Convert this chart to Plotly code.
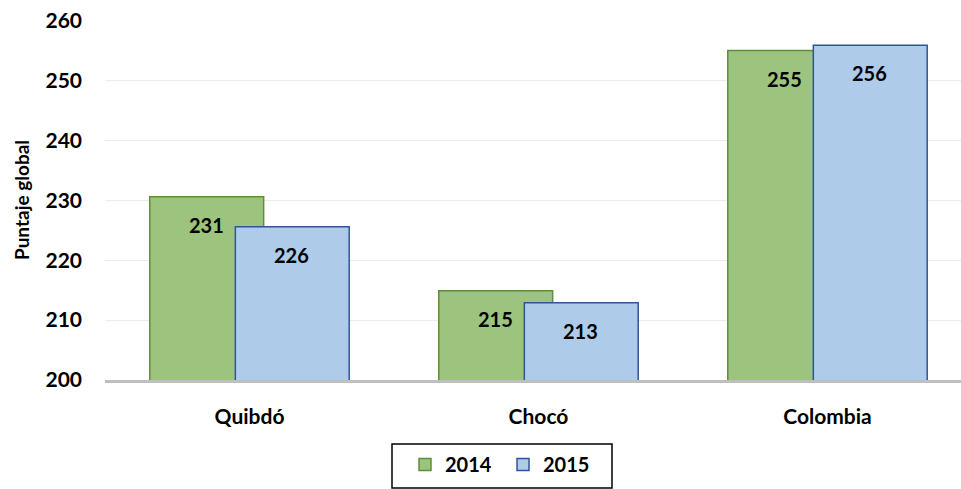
import plotly.graph_objects as go

categories = ["Quibdó", "Chocó", "Colombia"]
series_names = ["2014", "2015"]
values_2014 = [230.6, 214.9, 255.0]
values_2015 = [225.6, 212.9, 255.9]
labels_2014 = ["231", "215", "255"]
labels_2015 = ["226", "213", "256"]
y_ticks = [200, 210, 220, 230, 240, 250, 260]

FONT = "Lato"
W, H = 961, 489
L, R, T, B = 105, 0, 20, 109
PW, PH = W - L - R, H - T - B


def px_x(p):
    return (p - L) / PW


def px_y(p):
    return (H - B - p) / PH


fig = go.Figure()
fig.add_trace(go.Bar(
    x=categories, y=values_2014, name=series_names[0],
    offset=-0.345, width=0.394,
    marker=dict(color="#9dc47f", line=dict(color="#5e8f3a", width=1.5)),
))
fig.add_trace(go.Bar(
    x=categories, y=values_2015, name=series_names[1],
    offset=-0.049, width=0.394,
    marker=dict(color="#aecce9", line=dict(color="#2f5597", width=1.5)),
))

for vals, labs, xs in [(values_2014, labels_2014, -43), (values_2015, labels_2015, 42)]:
    for c, v, t in zip(categories, vals, labs):
        fig.add_annotation(x=c, y=v, text=t, showarrow=False, xshift=xs, yshift=-28,
                           yanchor="middle", xanchor="center",
                           font=dict(family=FONT, size=20, color="black", weight="bold"))

# legend frame
fig.add_shape(type="rect", xref="paper", yref="paper",
              x0=px_x(392), x1=px_x(612), y0=px_y(488), y1=px_y(444),
              line=dict(color="black", width=1.5), fillcolor="rgba(0,0,0,0)")

fig.update_layout(
    width=W, height=H,
    margin=dict(l=L, r=R, t=T, b=B),
    barmode="overlay",
    plot_bgcolor="white", paper_bgcolor="white",
    font=dict(family=FONT, size=20, color="black", weight="bold"),
    showlegend=True,
    legend=dict(
        orientation="h", x=px_x(405), xanchor="left",
        y=px_y(445), yanchor="top",
        bgcolor="rgba(0,0,0,0)", borderwidth=0,
        font=dict(family=FONT, size=20, color="black", weight="bold"),
        entrywidth=53, entrywidthmode="pixels",
        traceorder="normal",
    ),
)
fig.update_xaxes(
    range=[-0.5, 2.462], showline=True, linecolor="#bfbfbf", linewidth=2.5,
    showgrid=False, ticks="", ticklabelstandoff=16,
    tickfont=dict(family=FONT, size=21, color="black", weight="bold"),
)
fig.update_yaxes(
    range=[200, 260.1], tickvals=y_ticks, showgrid=True, gridcolor="#ebebeb", gridwidth=1,
    zeroline=False, showline=False, ticks="", ticklabelstandoff=22,
    tickfont=dict(family=FONT, size=21, color="black", weight="bold"),
    title=dict(text="Puntaje global", standoff=10,
               font=dict(family=FONT, size=19, color="black", weight="bold")),
)

fig.write_html("out.html", config={"displayModeBar": False},
               post_script="document.body.style.margin='0';")
